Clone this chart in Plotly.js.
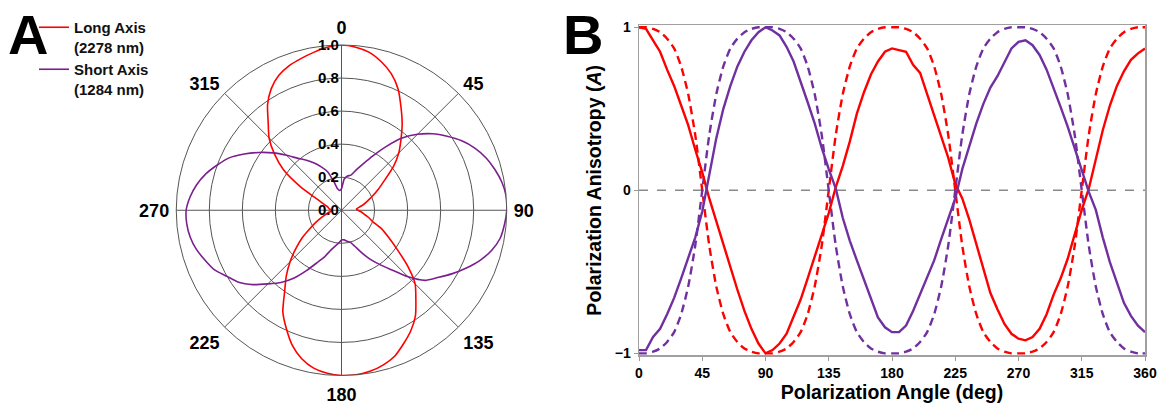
<!DOCTYPE html>
<html>
<head>
<meta charset="utf-8">
<script src="https://cdn.plot.ly/plotly-3.0.1.min.js"></script>
<style>html,body{margin:0;padding:0;background:#fff;}#chart{width:1160px;height:406px;}</style>
</head>
<body>
<div id="chart"></div>
<script>
// ---------- Panel A (polar) ----------
const polarTheta = [0,5,10,15,20,25,30,35,40,45,50,55,60,65,70,75,80,85,90,95,100,105,110,115,120,125,130,135,140,145,150,155,160,165,170,175,180,185,190,195,200,205,210,215,220,225,230,235,240,245,250,255,260,265,270,275,280,285,290,295,300,305,310,315,320,325,330,335,340,345,350,355,360];
const longAxisR = [1.00,0.99,0.97,0.93,0.88,0.81,0.72,0.64,0.56,0.49,0.41,0.32,0.26,0.21,0.17,0.14,0.11,0.09,0.10,0.12,0.14,0.17,0.20,0.27,0.33,0.41,0.52,0.63,0.70,0.78,0.84,0.89,0.94,0.97,0.99,1.00,1.00,0.99,0.97,0.93,0.87,0.79,0.71,0.60,0.52,0.44,0.36,0.29,0.22,0.17,0.13,0.10,0.08,0.06,0.06,0.07,0.08,0.09,0.12,0.17,0.29,0.43,0.53,0.62,0.69,0.78,0.85,0.90,0.93,0.95,0.97,0.99,1.00];
const shortAxisR = [0.13,0.19,0.21,0.22,0.26,0.31,0.38,0.47,0.57,0.65,0.72,0.78,0.84,0.89,0.93,0.96,0.985,1.00,1.00,0.99,0.975,0.94,0.89,0.83,0.77,0.71,0.66,0.57,0.47,0.40,0.34,0.28,0.23,0.20,0.19,0.18,0.18,0.20,0.22,0.25,0.30,0.35,0.42,0.50,0.57,0.63,0.70,0.76,0.80,0.85,0.88,0.91,0.93,0.94,0.94,0.92,0.89,0.85,0.80,0.75,0.68,0.61,0.54,0.47,0.41,0.37,0.33,0.29,0.25,0.18,0.13,0.12,0.13];
const angularTicks = [0,45,90,135,180,225,270,315];
const angularTickText = ['0','45','90','135','180','225','270','315'];
const radialTicks = [0,0.2,0.4,0.6,0.8,1.0];
const radialTickText = ['0.0','0.2','0.4','0.6','0.8','1.0'];
const legendNames = ['Long Axis<br>(2278 nm)','Short Axis<br>(1284 nm)'];

// ---------- Panel B (cartesian) ----------
const angleDeg = [0,5,10,15,20,25,30,35,40,45,50,55,60,65,70,75,80,85,90,95,100,105,110,115,120,125,130,135,140,145,150,155,160,165,170,175,180,185,190,195,200,205,210,215,220,225,230,235,240,245,250,255,260,265,270,275,280,285,290,295,300,305,310,315,320,325,330,335,340,345,350,355,360];
const longMeasured = [1.00,0.99,0.92,0.85,0.74,0.64,0.52,0.40,0.25,0.11,-0.05,-0.19,-0.33,-0.48,-0.61,-0.74,-0.85,-0.94,-1.00,-0.98,-0.94,-0.88,-0.78,-0.67,-0.54,-0.41,-0.28,-0.14,0.02,0.15,0.30,0.47,0.60,0.71,0.79,0.85,0.87,0.86,0.85,0.77,0.72,0.59,0.46,0.33,0.20,0.04,-0.05,-0.18,-0.33,-0.49,-0.63,-0.73,-0.82,-0.88,-0.91,-0.92,-0.90,-0.85,-0.76,-0.64,-0.54,-0.42,-0.27,-0.12,0.01,0.19,0.37,0.52,0.64,0.73,0.80,0.84,0.87];
const shortMeasured = [-0.98,-0.98,-0.90,-0.85,-0.76,-0.66,-0.54,-0.42,-0.29,-0.13,0.10,0.32,0.50,0.64,0.76,0.85,0.92,0.97,1.00,0.98,0.95,0.88,0.79,0.67,0.54,0.41,0.26,0.13,0.01,-0.17,-0.31,-0.43,-0.55,-0.67,-0.78,-0.84,-0.87,-0.87,-0.83,-0.74,-0.64,-0.53,-0.43,-0.30,-0.17,-0.05,0.13,0.27,0.41,0.53,0.63,0.70,0.79,0.87,0.91,0.92,0.89,0.83,0.74,0.63,0.51,0.39,0.26,0.13,-0.01,-0.12,-0.29,-0.44,-0.57,-0.69,-0.77,-0.83,-0.87];
const longModel = [1.00,1.00,0.99,0.97,0.93,0.87,0.76,0.59,0.34,0.00,-0.34,-0.59,-0.76,-0.87,-0.93,-0.97,-0.99,-1.00,-1.00,-1.00,-0.99,-0.97,-0.93,-0.87,-0.76,-0.59,-0.34,0.00,0.34,0.59,0.76,0.87,0.93,0.97,0.99,1.00,1.00,1.00,0.99,0.97,0.93,0.87,0.76,0.59,0.34,0.00,-0.34,-0.59,-0.76,-0.87,-0.93,-0.97,-0.99,-1.00,-1.00,-1.00,-0.99,-0.97,-0.93,-0.87,-0.76,-0.59,-0.34,0.00,0.34,0.59,0.76,0.87,0.93,0.97,0.99,1.00,1.00];
const shortModel = [-1.00,-1.00,-0.99,-0.97,-0.93,-0.87,-0.76,-0.59,-0.34,0.00,0.34,0.59,0.76,0.87,0.93,0.97,0.99,1.00,1.00,1.00,0.99,0.97,0.93,0.87,0.76,0.59,0.34,0.00,-0.34,-0.59,-0.76,-0.87,-0.93,-0.97,-0.99,-1.00,-1.00,-1.00,-0.99,-0.97,-0.93,-0.87,-0.76,-0.59,-0.34,0.00,0.34,0.59,0.76,0.87,0.93,0.97,0.99,1.00,1.00,1.00,0.99,0.97,0.93,0.87,0.76,0.59,0.34,0.00,-0.34,-0.59,-0.76,-0.87,-0.93,-0.97,-0.99,-1.00,-1.00];
const xTicks = [0,45,90,135,180,225,270,315,360];
const yTicks = [-1,0,1];

const RED = '#ff0000';
const PURPLE_A = '#7b1f8e';
const PURPLE_B = '#7030a0';
const FONT = 'Liberation Sans, Arial, sans-serif';

const W = 1160, H = 406;
const px = v => v / W;
const py = v => 1 - v / H;

const traces = [
  {type:'scatterpolar', theta: polarTheta, r: longAxisR, mode:'lines', name: legendNames[0],
   line:{color:RED, width:1.6, shape:'spline', smoothing:0.6}, subplot:'polar'},
  {type:'scatterpolar', theta: polarTheta, r: shortAxisR, mode:'lines', name: legendNames[1],
   line:{color:PURPLE_A, width:1.6, shape:'spline', smoothing:0.6}, subplot:'polar'},
  {type:'scatter', x: angleDeg, y: longModel, mode:'lines', showlegend:false,
   line:{color:RED, width:2.4, dash:'8px,5px', shape:'spline', smoothing:0.6}},
  {type:'scatter', x: angleDeg, y: shortModel, mode:'lines', showlegend:false,
   line:{color:PURPLE_B, width:2.4, dash:'8px,5px', shape:'spline', smoothing:0.6}},
  {type:'scatter', x: angleDeg, y: longMeasured, mode:'lines', showlegend:false,
   line:{color:RED, width:2.4}},
  {type:'scatter', x: angleDeg, y: shortMeasured, mode:'lines', showlegend:false,
   line:{color:PURPLE_B, width:2.4}}
];

const layout = {
  width: W, height: H,
  margin: {l:0, r:0, t:0, b:0},
  paper_bgcolor:'#ffffff', plot_bgcolor:'#ffffff',
  font: {family: FONT, color:'#000', size:14},
  showlegend: true,
  legend: {x: px(34), y: py(11), xanchor:'left', yanchor:'top', valign:'top',
    font:{family:FONT, size:15, weight:'bold', color:'#111'}, bgcolor:'rgba(0,0,0,0)',
    tracegroupgap: 4, itemwidth: 30},
  polar: {
    domain: {x:[px(176), px(507)], y:[py(375.5), py(45)]},
    bgcolor:'#ffffff',
    angularaxis: {rotation:90, direction:'clockwise', tickmode:'array',
      tickvals: angularTicks, ticktext: angularTickText,
      tickfont:{family:FONT, size:18, weight:'bold', color:'#000'},
      ticks:'outside', ticklen:3, tickcolor:'rgba(0,0,0,0)',
      showline:true, linecolor:'#555', linewidth:1, gridcolor:'#555', gridwidth:1},
    radialaxis: {range:[0,1], angle:90, side:'counterclockwise', tickmode:'array',
      tickvals: radialTicks, ticktext: radialTickText,
      tickfont:{family:FONT, size:15, weight:'bold', color:'#000'},
      ticks:'', showline:false, gridcolor:'#555', gridwidth:1, tickangle:90}
  },
  xaxis: {domain:[px(639), px(1145)], range:[0,360], tickmode:'array', tickvals:xTicks,
    ticks:'outside', ticklen:4, tickcolor:'#999', showline:true, linecolor:'#a0a0a0', linewidth:1.5,
    mirror:true, showgrid:false, zeroline:false,
    tickfont:{family:FONT, size:14, weight:'bold', color:'#000'},
    title:{text:'Polarization Angle (deg)', font:{family:FONT, size:19.5, weight:'bold', color:'#000'}, standoff:2}},
  yaxis: {domain:[py(355.3), py(25.3)], range:[-1.012,1.012], tickmode:'array', tickvals:yTicks,
    ticks:'outside', ticklen:4, tickcolor:'#999', showline:true, linecolor:'#a0a0a0', linewidth:1.5,
    mirror:true, showgrid:false, zeroline:false,
    tickfont:{family:FONT, size:14, weight:'bold', color:'#000'},
    title:{text:'Polarization Anisotropy (<i>A</i>)', font:{family:FONT, size:19.5, weight:'bold', color:'#000'}, standoff:8}},
  shapes: [
    {type:'line', xref:'x', yref:'y', x0:0, x1:360, y0:0, y1:0,
     line:{color:'#8a8a8a', width:1.5, dash:'dash'}, layer:'below'}
  ],
  annotations: [
    {text:'<b>A</b>', xref:'paper', yref:'paper', x:px(6), y:py(1), xanchor:'left', yanchor:'top',
     showarrow:false, font:{family:FONT, size:56, color:'#000'}},
    {text:'<b>B</b>', xref:'paper', yref:'paper', x:px(561), y:py(1), xanchor:'left', yanchor:'top',
     showarrow:false, font:{family:FONT, size:56, color:'#000'}}
  ]
};

Plotly.newPlot('chart', traces, layout, {staticPlot:true, displayModeBar:false});
</script>
</body>
</html>
